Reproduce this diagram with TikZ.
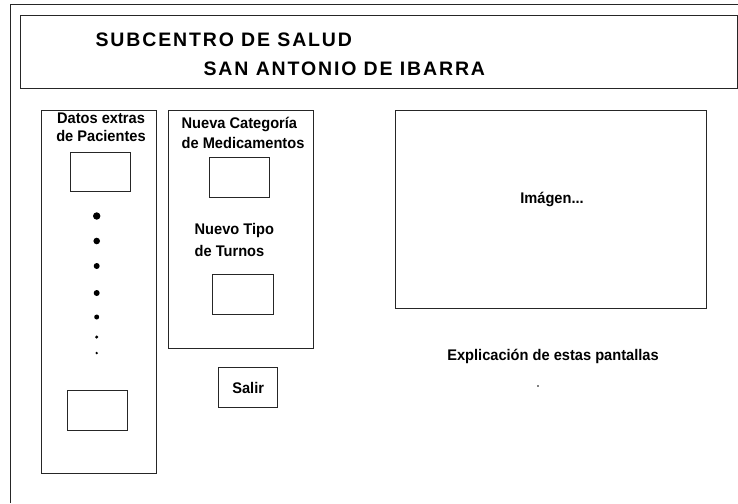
\documentclass[tikz,border=0pt]{standalone}
\usepackage{fontspec}
\setmainfont{Liberation Sans}
\newfontfamily\nb{Liberation Sans}[FakeStretch=0.95]
\newfontfamily\hb{Liberation Sans}[LetterSpace=9.5]
\begin{document}
\begin{tikzpicture}[x=1pt,y=-1pt, line width=1.3pt,
  frame/.style={draw=black!85, rectangle, inner sep=0pt, anchor=north west},
  lbl/.style={font=\nb\bfseries\fontsize{15.4}{18}\selectfont, inner sep=0pt},
  hdr/.style={font=\hb\bfseries\fontsize{19.5}{22}\selectfont, inner sep=0pt, anchor=base west},
  blob/.style={circle, fill=black, inner sep=0pt, draw=none}]
\useasboundingbox (0,0) rectangle (738,503);
\fill[white] (0,0) rectangle (738,503);
\coordinate (c1) at (10.5,503);
\coordinate (c2) at (10.5,4.5);
\coordinate (c3) at (738,4.5);
\draw[draw=black!85] (c1) -- (c2) -- (c3);
% header
\node[frame, minimum width=717pt, minimum height=73pt] (hdrbox) at (20,15) {};
\node[hdr] (h1) at (95,47) {SUBCENTRO DE SALUD};
\node[hdr] (h2) at (203,75) {SAN ANTONIO DE IBARRA};
% left panel
\node[frame, minimum width=115.5pt, minimum height=363pt] (leftpanel) at (40.5,110) {};
\node[lbl, align=center, anchor=base] (datos) at (101,141) {Datos extras\\de Pacientes};
\node[frame, minimum width=60pt, minimum height=39pt] (box1) at (70,152) {};
\node[frame, minimum width=60pt, minimum height=40pt] (box2) at (67,390) {};
\node[blob, minimum size=7.4pt] (d1) at (96.7,216) {};
\node[blob, minimum size=6.6pt] (d2) at (96.7,241) {};
\node[blob, minimum size=6pt] (d3) at (96.7,266) {};
\node[blob, minimum size=6pt] (d4) at (96.7,293) {};
\node[blob, minimum size=5pt] (d5) at (96.7,317) {};
\node[blob, minimum size=3.4pt] (d6) at (96.7,337) {};
\node[blob, minimum size=2.6pt] (d7) at (96.7,353) {};
% middle panel
\node[frame, minimum width=145pt, minimum height=238pt] (midpanel) at (168,110) {};
\node[lbl, align=left, anchor=base west, font=\nb\bfseries\fontsize{15.4}{20}\selectfont] (cat) at (181,148) {Nueva Categoría\\de Medicamentos};
\node[frame, minimum width=60pt, minimum height=40pt] (catbox) at (209,157) {};
\node[lbl, align=left, anchor=base west, font=\nb\bfseries\fontsize{15.4}{22}\selectfont] (tipo) at (194,256) {Nuevo Tipo\\de Turnos};
\node[frame, minimum width=61pt, minimum height=40pt] (turnbox) at (212,274) {};
\node[frame, minimum width=59pt, minimum height=40pt] (salirbox) at (218,367) {};
\node[lbl] (salir) at (salirbox.center) {Salir};
% right
\node[frame, minimum width=311pt, minimum height=198pt] (imgbox) at (395,110) {};
\node[lbl, anchor=base] (img) at (552,203) {Imágen...};
\node[lbl, anchor=base] (expl) at (553,360) {Explicación de estas pantallas};
\node[blob, minimum size=1.6pt] (pt) at (538,386) {};
\end{tikzpicture}
\end{document}
